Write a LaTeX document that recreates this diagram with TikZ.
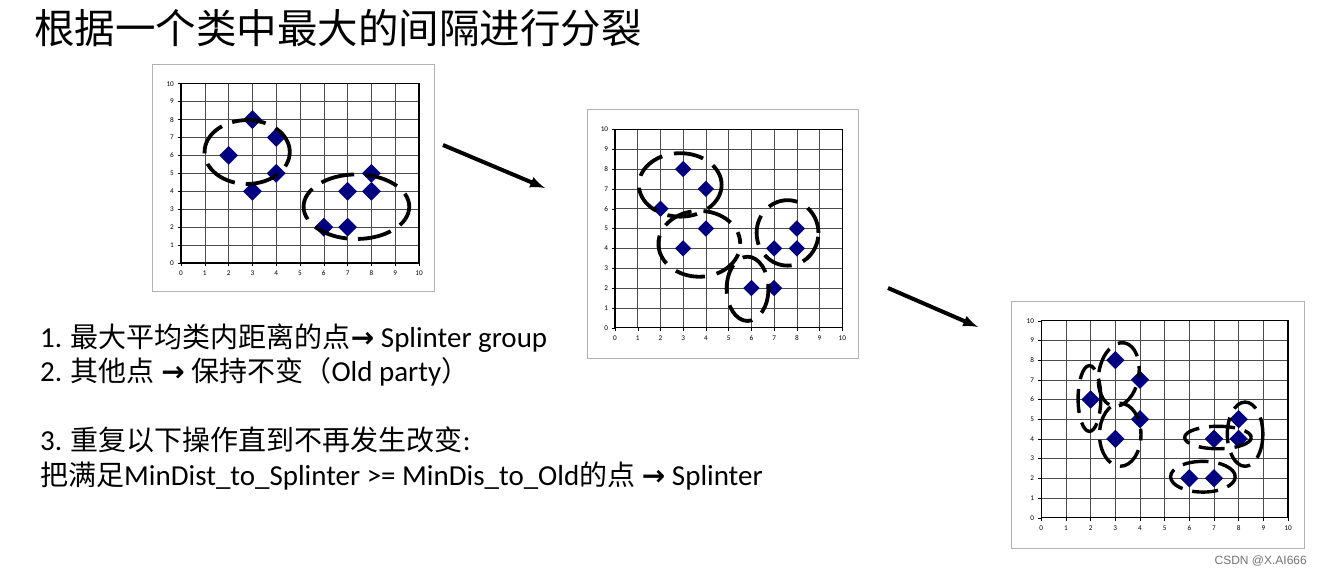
\documentclass[tikz,border=0pt]{standalone}
\usepackage{fontspec}
\setmainfont{Carlito}[Scale=1.035]
\newfontfamily\cjk{Noto Sans CJK SC}
\newfontfamily\arrfont{DejaVu Sans}
\newfontfamily\wmfont{Liberation Sans}
\usetikzlibrary{arrows,calc,shapes.geometric}

\begin{document}
\begin{tikzpicture}[x=1pt,y=-1pt]
    \definecolor{navy}{RGB}{0,0,128}
    \tikzstyle{every node}=[font=\fontsize{28}{34}\selectfont]
    \tikzstyle{sample}=[diamond, fill=navy, inner sep=0pt, minimum size=19pt]
    \tikzstyle{ring}=[line width=3.8pt, black, dash pattern=on 34pt off 11pt]
    \tikzstyle{axlabel}=[font=\fontsize{7}{8}\selectfont, inner sep=1pt]
    \tikzstyle{gridline}=[black!70, line width=0.6pt]
    \tikzstyle{frame}=[black!30, line width=0.9pt]

      \useasboundingbox (0,0) rectangle (1322,575);

      % title
      \node[anchor=base west, inner sep=0pt, font=\fontsize{40.5}{44}\selectfont] (title) at (34,44)
        {\cjk 根据一个类中最大的间隔进行分裂};

      % first chart: two clusters
      \draw[frame] (152,64) rectangle (434,291);
      \begin{scope}[shift={(181,263)}, x=23.8pt, y=17.93pt]
        \foreach \i in {1,...,10} {
          \draw[gridline] (\i,0) -- (\i,10);
          \draw[gridline] (0,\i) -- (10,\i);
        }
        \draw[line width=1.2pt] (0,0) rectangle (10,10);
        \foreach \i in {0,...,10} {
          \draw (0,\i) -- (-0.12,\i);
          \draw (\i,0) -- (\i,-0.15);
          \node[axlabel, anchor=east] (ya\i) at (-0.25,\i) {\i};
          \node[axlabel, anchor=north] (xa\i) at (\i,-0.35) {\i};
        }
        \foreach \x/\y [count=\k] in {2/6,3/8,4/7,4/5,3/4,6/2,7/2,7/4,8/4,8/5}
          \node[sample] (pa\k) at (\x,\y) {};

        % dashed ellipses
        \draw[ring, dash phase=5pt] (2.78,6.19) ellipse [x radius=1.79, y radius=1.78];
        \draw[ring, dash phase=20pt] (7.37,3.14) ellipse [x radius=2.22, y radius=1.8];
      \end{scope}

      % second chart: four groups
      \draw[frame] (587,109) rectangle (858,358);
      \begin{scope}[shift={(615,327.7)}, x=22.73pt, y=19.83pt]
        \foreach \i in {1,...,10} {
          \draw[gridline] (\i,0) -- (\i,10);
          \draw[gridline] (0,\i) -- (10,\i);
        }
        \draw[line width=1.2pt] (0,0) rectangle (10,10);
        \foreach \i in {0,...,10} {
          \draw (0,\i) -- (-0.12,\i);
          \draw (\i,0) -- (\i,-0.15);
          \node[axlabel, anchor=east] (yb\i) at (-0.25,\i) {\i};
          \node[axlabel, anchor=north] (xb\i) at (\i,-0.35) {\i};
        }
        \foreach \x/\y [count=\k] in {2/6,3/8,4/7,4/5,3/4,6/2,7/2,7/4,8/4,8/5}
          \node[sample, minimum size=16.5pt] (pb\k) at (\x,\y) {};

        % dashed ellipses
        \draw[ring, dash pattern=on 30pt off 12pt, dash phase=8pt] (2.87,7.2) ellipse [x radius=1.82, y radius=1.6];
        \draw[ring, dash pattern=on 30pt off 12pt, dash phase=18pt] (3.71,4.23) ellipse [x radius=1.8, y radius=1.66];
        \draw[ring, dash pattern=on 30pt off 12pt, dash phase=2pt] (7.59,4.78) ellipse [x radius=1.36, y radius=1.65];
        \draw[ring, dash pattern=on 30pt off 12pt, dash phase=25pt] (5.83,1.96) ellipse [x radius=0.92, y radius=1.62];
      \end{scope}

      % third chart: six groups
      \draw[frame] (1011,301) rectangle (1304,548);
      \begin{scope}[shift={(1041.3,517.7)}, x=24.67pt, y=19.7pt]
        \foreach \i in {1,...,10} {
          \draw[gridline] (\i,0) -- (\i,10);
          \draw[gridline] (0,\i) -- (10,\i);
        }
        \draw[line width=1.2pt] (0,0) rectangle (10,10);
        \foreach \i in {0,...,10} {
          \draw (0,\i) -- (-0.12,\i);
          \draw (\i,0) -- (\i,-0.15);
          \node[axlabel, anchor=east] (yc\i) at (-0.25,\i) {\i};
          \node[axlabel, anchor=north] (xc\i) at (\i,-0.35) {\i};
        }
        \foreach \x/\y [count=\k] in {2/6,3/8,4/7,4/5,3/4,6/2,7/2,7/4,8/4,8/5}
          \node[sample, minimum size=18.5pt] (pc\k) at (\x,\y) {};

        % dashed ellipses
        \draw[ring, line width=3.4pt, dash pattern=on 24pt off 10pt, dash phase=4pt] (1.95,6.05) ellipse [x radius=0.46, y radius=1.67];
        \draw[ring, line width=3.4pt, dash pattern=on 26pt off 10pt, dash phase=14pt, rotate around={-10:(3.14,7.27)}] (3.14,7.27) ellipse [x radius=0.81, y radius=1.63];
        \draw[ring, line width=3.4pt, dash pattern=on 26pt off 10pt, dash phase=20pt] (3.2,4.21) ellipse [x radius=0.84, y radius=1.6];
        \draw[ring, line width=3.4pt, dash pattern=on 26pt off 10pt, dash phase=9pt] (8.26,4.24) ellipse [x radius=0.72, y radius=1.63];
        \draw[ring, line width=3.4pt, dash pattern=on 26pt off 10pt, dash phase=16pt] (7.16,4.07) ellipse [x radius=1.35, y radius=0.57];
        \draw[ring, line width=3.4pt, dash pattern=on 26pt off 10pt, dash phase=3pt] (6.55,2.08) ellipse [x radius=1.31, y radius=0.78];
      \end{scope}

      % arrows between the charts
      \coordinate (A1) at (443,145);
      \coordinate (A2) at (545,188);
      \coordinate (B1) at (888,288);
      \coordinate (B2) at (978,327);
      \draw[-latex, line width=4pt] (A1) -- (A2);
      \draw[-latex, line width=4pt] (B1) -- (B2);

      % steps
      \node[anchor=base west, inner sep=0pt] (s1) at (40,347)
        {1. {\cjk 最大平均类内距离的点}{\arrfont\bfseries →} Splinter group};
      \node[anchor=base west, inner sep=0pt] (s2) at (40,381)
        {2. {\cjk 其他点} {\arrfont\bfseries →} {\cjk 保持不变（}Old party{\cjk ）}};
      \node[anchor=base west, inner sep=0pt] (s3) at (40,450)
        {3. {\cjk 重复以下操作直到不再发生改变}:};
      \node[anchor=base west, inner sep=0pt] (s4) at (40,485)
        {{\cjk 把满足}MinDist\_to\_Splinter >= MinDis\_to\_Old{\cjk 的点} {\arrfont\bfseries →} Splinter};

      \node[anchor=east, inner sep=0pt, text=black!55, font=\wmfont\fontsize{12}{14}\selectfont] (wm) at (1307,561) {CSDN @X.AI666};

    \end{tikzpicture}
\end{document}
